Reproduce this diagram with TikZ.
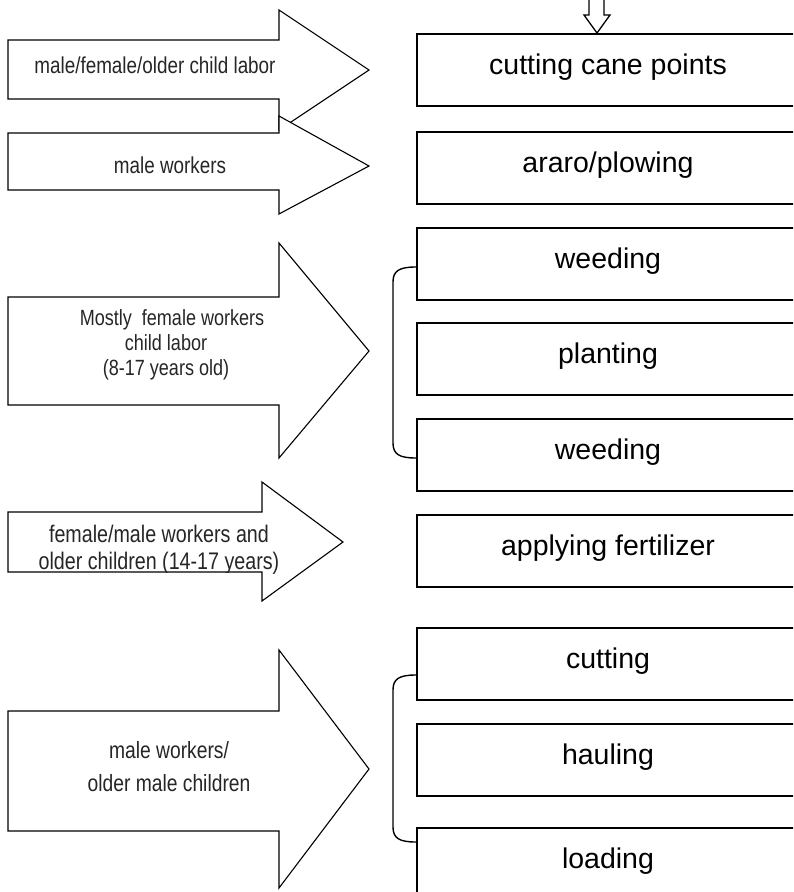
\documentclass[tikz,border=0pt]{standalone}
\usepackage{fontspec}
\setmainfont{Liberation Sans}
\newfontfamily\narrowfont[FakeStretch=0.82]{Liberation Sans}
\usetikzlibrary{calc}

\begin{document}
\begin{tikzpicture}[x=1pt,y=-1pt,
  stage/.style={draw, line width=1.6pt, minimum width=384pt, minimum height=72pt,
                anchor=north west, inner sep=0pt, fill=white},
  stagetext/.style={anchor=base, inner sep=0pt, font=\fontsize{28.5}{33}\selectfont},
  bigarrow/.style={draw, fill=white, line width=1.1pt, line join=miter},
  armtext/.style={align=center, inner sep=0pt, text=black!85},
  brace/.style={draw, line width=1.4pt},
  hollow/.style={draw, fill=white, line width=1.3pt, line join=miter}]

\useasboundingbox (0,0) rectangle (793,892);
\clip (0,0) rectangle (793,892);
\fill[white] (0,0) rectangle (793,892);

% ---- stages of the cane cycle (right column) ----
\node[stage] (c0) at (416,33)  {};
\node[stage] (c1) at (416,131) {};
\node[stage] (w1) at (416,227) {};
\node[stage] (p1) at (416,322) {};
\node[stage] (w2) at (416,418) {};
\node[stage] (f1) at (416,514) {};
\node[stage] (k1) at (416,627) {};
\node[stage] (k2) at (416,723) {};
\node[stage] (k3) at (416,827) {};

\node[stagetext] (tc0) at ($(c0.north west)+(192,41)$) {cutting cane points};
\node[stagetext] (tc1) at ($(c1.north west)+(192,41)$) {araro/plowing};
\node[stagetext] (tw1) at ($(w1.north west)+(192,41)$) {weeding};
\node[stagetext] (tp1) at ($(p1.north west)+(192,41)$) {planting};
\node[stagetext] (tw2) at ($(w2.north west)+(192,41)$) {weeding};
\node[stagetext] (tf1) at ($(f1.north west)+(192,41)$) {applying fertilizer};
\node[stagetext] (tk1) at ($(k1.north west)+(192,41)$) {cutting};
\node[stagetext] (tk2) at ($(k2.north west)+(192,41)$) {hauling};
\node[stagetext] (tk3) at ($(k3.north west)+(192,41)$) {loading};

% ---- small hollow arrow entering the first stage ----
\coordinate (tip0) at ($(c0.north west)+(181,0)$);
\path[hollow] ($(tip0)+(-8,-36)$) -- ($(tip0)+(-8,-18)$) -- ($(tip0)+(-13,-18)$)
  -- (tip0) -- ($(tip0)+(13,-18)$) -- ($(tip0)+(7,-18)$) -- ($(tip0)+(7,-36)$);

% ---- braces grouping stages ----
\coordinate (b1s) at ($(w1.north west)+(0,40)$);
\coordinate (b1e) at ($(w2.north west)+(0,40)$);
\draw[brace] (b1s) .. controls ($(b1s)+(-17,0)$) and ($(b1s)+(-23,4)$) .. ($(b1s)+(-23,15)$)
  -- ($(b1e)+(-23,-15)$) .. controls ($(b1e)+(-23,-4)$) and ($(b1e)+(-17,0)$) .. (b1e);

\coordinate (b2s) at ($(k1.north west)+(0,48)$);
\coordinate (b2e) at ($(k3.north west)+(0,15)$);
\draw[brace] (b2s) .. controls ($(b2s)+(-17,0)$) and ($(b2s)+(-23,4)$) .. ($(b2s)+(-23,15)$)
  -- ($(b2e)+(-23,-15)$) .. controls ($(b2e)+(-23,-4)$) and ($(b2e)+(-17,0)$) .. (b2e);

% ---- block arrows with the labour groups (left column) ----
\path[bigarrow] (8,40) -- (279,40) -- (279,10) -- (369,70) -- (279,130) -- (279,99) -- (8,99) -- cycle;
\node[armtext, font=\narrowfont\fontsize{23}{27}\selectfont] (a1) at (155,65) {male/female/older child labor};

\path[bigarrow] (8,133) -- (279,133) -- (279,116) -- (369,166) -- (279,214) -- (279,190) -- (8,190) -- cycle;
\node[armtext, font=\narrowfont\fontsize{23}{27}\selectfont] (a2) at (170,165) {male workers};

\path[bigarrow] (8,297) -- (279,297) -- (279,243) -- (369,351) -- (279,458) -- (279,405) -- (8,405) -- cycle;
\node[armtext, font=\narrowfont\fontsize{22}{25}\selectfont] (a3) at (166,345)
  {\hspace*{12pt}Mostly\ \ female workers\\child labor\\(8-17 years old)};

\path[bigarrow] (8,512) -- (262,512) -- (262,482) -- (343,542) -- (262,601) -- (262,572) -- (8,572) -- cycle;
\begin{scope}
  \clip (8,512) -- (262,512) -- (262,482) -- (343,542) -- (262,601) -- (262,572) -- (8,572) -- cycle;
  \node[armtext, font=\narrowfont\fontsize{24}{27}\selectfont] (a4) at (159,550)
    {female/male workers and\\older children (14-17 years)};
\end{scope}

\path[bigarrow] (8,711) -- (279,711) -- (279,650) -- (369,769) -- (279,888) -- (279,831) -- (8,831) -- cycle;
\node[armtext, font=\narrowfont\fontsize{23.5}{33}\selectfont] (a5) at (169,767)
  {male workers/\\older male children};

\end{tikzpicture}
\end{document}
